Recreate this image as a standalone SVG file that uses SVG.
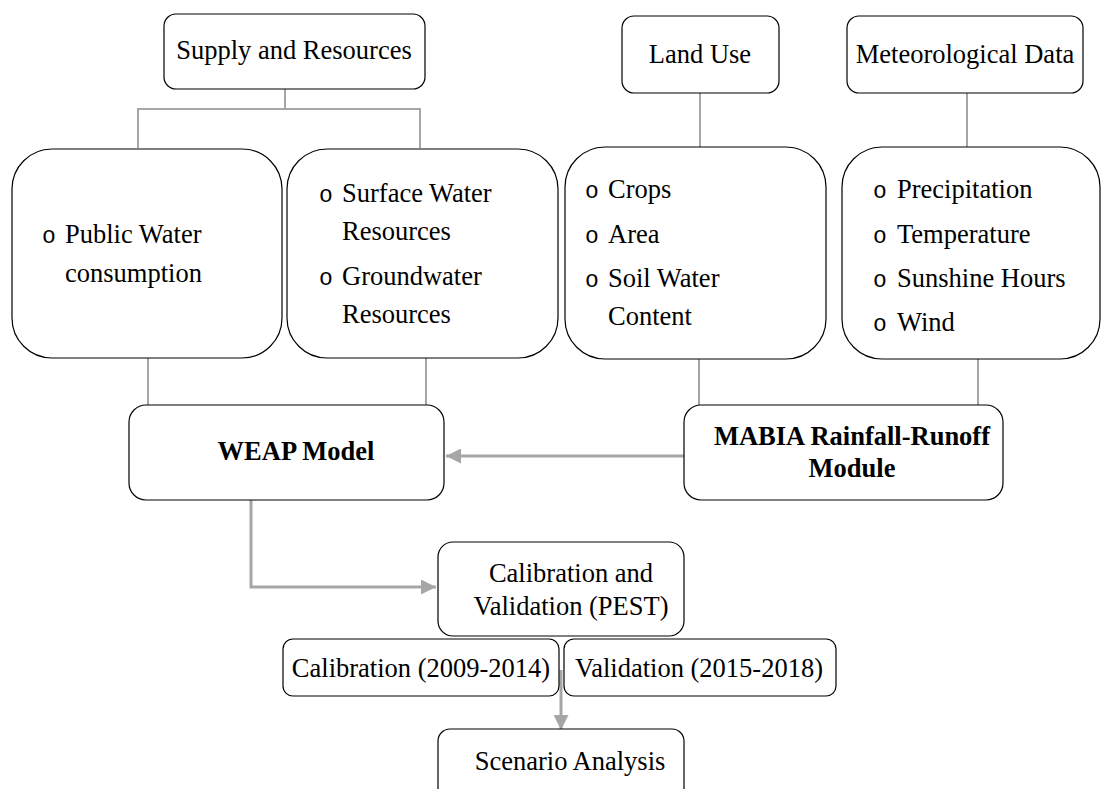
<svg xmlns="http://www.w3.org/2000/svg" width="1102" height="789" viewBox="0 0 1102 789">
<style>
.box{fill:#fff;stroke:#000;stroke-width:1.2}
.t{font-family:"Liberation Serif","Times New Roman",serif;font-size:26.5px;fill:#000}
.b{font-weight:bold}
.bul{font-family:"Liberation Mono","Courier New",monospace;font-size:23px;fill:#000}
.c{fill:none;stroke:#a6a6a6;stroke-width:2}
.a{fill:none;stroke:#a6a6a6;stroke-width:3}
</style>
<defs>
<marker id="ah" markerWidth="5" markerHeight="5" refX="5" refY="2.5" orient="auto" markerUnits="strokeWidth">
<path d="M0,0 L5,2.5 L0,5 Z" fill="#a6a6a6"/>
</marker>
</defs>
<rect width="1102" height="789" fill="#fff"/>
<g id="connectors">
<path class="c" d="M285,89 V109 M138,148 V109 H420 V148"/>
<path class="c" d="M700,93 V148 M967,93 V148"/>
<path class="c" d="M148,358 V405 M426,358 V405 M699,359 V405 M978,359 V405"/>
<path class="a" d="M684,456 H446" marker-end="url(#ah)"/>
<path class="a" d="M251,500 V587 H436" marker-end="url(#ah)"/>
<path class="a" d="M561,670 V730" marker-end="url(#ah)"/>
</g>
<g id="supply">
<rect class="box" x="164" y="14" width="261" height="75" rx="12"/>
<text class="t" x="294" y="59" text-anchor="middle">Supply and Resources</text>
</g>
<g id="landuse">
<rect class="box" x="622" y="16" width="157" height="77" rx="12"/>
<text class="t" x="700" y="63" text-anchor="middle">Land Use</text>
</g>
<g id="meteo">
<rect class="box" x="847" y="16" width="236" height="77" rx="12"/>
<text class="t" x="965" y="63" text-anchor="middle">Meteorological Data</text>
</g>
<g id="public">
<rect class="box" x="12" y="149" width="270" height="209" rx="40"/>
<text class="bul" x="42" y="243">o</text>
<text class="t" x="65" y="243">Public Water</text>
<text class="t" x="65" y="282">consumption</text>
</g>
<g id="resources">
<rect class="box" x="287" y="149" width="271" height="209" rx="40"/>
<text class="bul" x="319" y="202">o</text>
<text class="t" x="342" y="202">Surface Water</text>
<text class="t" x="342" y="240">Resources</text>
<text class="bul" x="319" y="285">o</text>
<text class="t" x="342" y="285">Groundwater</text>
<text class="t" x="342" y="323">Resources</text>
</g>
<g id="landdata">
<rect class="box" x="565" y="147" width="261" height="212" rx="40"/>
<text class="bul" x="585" y="198">o</text>
<text class="t" x="608" y="198">Crops</text>
<text class="bul" x="585" y="243">o</text>
<text class="t" x="608" y="243">Area</text>
<text class="bul" x="585" y="287">o</text>
<text class="t" x="608" y="287">Soil Water</text>
<text class="t" x="608" y="325">Content</text>
</g>
<g id="meteodata">
<rect class="box" x="842" y="147" width="258" height="212" rx="40"/>
<text class="bul" x="873" y="198">o</text>
<text class="t" x="897" y="198">Precipitation</text>
<text class="bul" x="873" y="243">o</text>
<text class="t" x="897" y="243">Temperature</text>
<text class="bul" x="873" y="287">o</text>
<text class="t" x="897" y="287">Sunshine Hours</text>
<text class="bul" x="873" y="331">o</text>
<text class="t" x="897" y="331">Wind</text>
</g>
<g id="weap">
<rect class="box" x="129" y="405" width="315" height="95" rx="17"/>
<text class="t b" x="296" y="460" text-anchor="middle">WEAP Model</text>
</g>
<g id="mabia">
<rect class="box" x="684" y="405" width="319" height="95" rx="17"/>
<text class="t b" x="852" y="445" text-anchor="middle">MABIA Rainfall-Runoff</text>
<text class="t b" x="852" y="477" text-anchor="middle">Module</text>
</g>
<g id="calval">
<rect class="box" x="438" y="542" width="246" height="94" rx="15"/>
<text class="t" x="571" y="582" text-anchor="middle">Calibration and</text>
<text class="t" x="571" y="615" text-anchor="middle">Validation (PEST)</text>
</g>
<g id="calibration">
<rect class="box" x="283" y="639" width="276" height="57" rx="10"/>
<text class="t" x="421" y="677" text-anchor="middle">Calibration (2009-2014)</text>
</g>
<g id="validation">
<rect class="box" x="564" y="639" width="272" height="57" rx="10"/>
<text class="t" x="575" y="677">Validation (2015-2018)</text>
</g>
<g id="scenario">
<rect class="box" x="438" y="729" width="246" height="80" rx="12"/>
<text class="t" x="570" y="770" text-anchor="middle">Scenario Analysis</text>
</g>
</svg>
